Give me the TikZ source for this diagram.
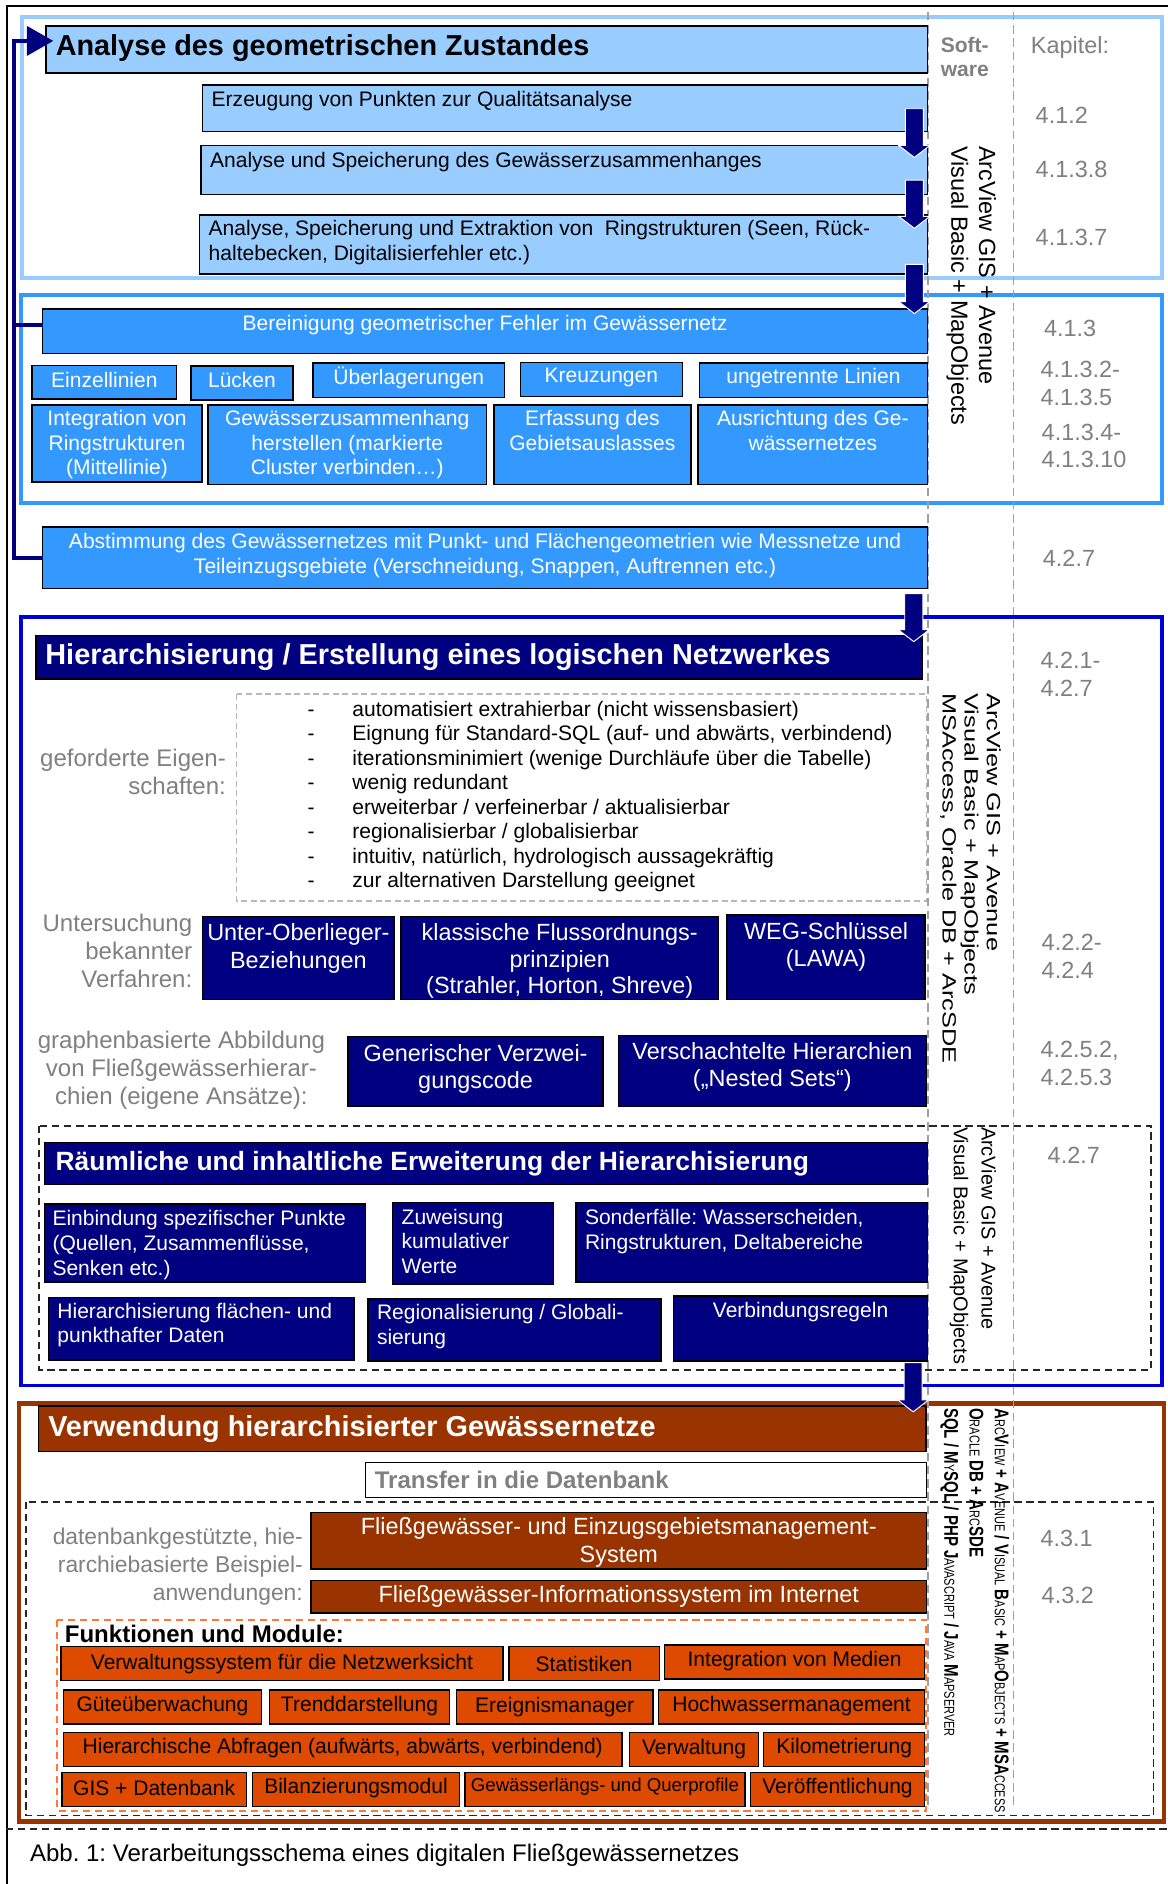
\documentclass[tikz,border=0pt]{standalone}
\usepackage{fontspec}
\usepackage{graphicx}
\setmainfont{Liberation Sans}
\usetikzlibrary{arrows.meta,calc}
\frenchspacing
\definecolor{lblue}{HTML}{99CCFF}
\definecolor{mblue}{HTML}{3399FF}
\definecolor{navy}{HTML}{000080}
\definecolor{sblue}{HTML}{0000DC}
\definecolor{brn}{HTML}{993300}
\definecolor{orng}{HTML}{DD4A00}
\definecolor{orngd}{HTML}{FF7A30}
\definecolor{gtext}{HTML}{808080}
\definecolor{gline}{HTML}{A0A0A0}
\newcommand\fs[2]{\fontsize{#1}{#2}\selectfont}
\newcommand\bx[9]{%
\node[#1,anchor=north west,minimum width={(#5)-(#3)},minimum height={(#6)-(#4)}] (#2) at (#3,#4) {};
\node[#8] (#2t) at (#2.#7) {#9};}
\newcommand\bigarrow[2]{\path[fill=navy,draw=white,line width=0.8pt] let \p1=(#1), \p2=(#2) in
 (\x1-7.5pt,\y1) -- (\x1-7.5pt,\y2+10pt) -- (\x1-13pt,\y2+10pt) -- (\x1,\y2) -- (\x1+13pt,\y2+10pt) -- (\x1+7.5pt,\y2+10pt) -- (\x1+7.5pt,\y1) -- cycle;}
\newcommand\Bg[1]{{\fontsize{16.5}{22}\selectfont\bfseries #1}}
\newcommand\Sm[1]{{\fontsize{12}{22}\selectfont #1}}
\begin{document}
\begin{tikzpicture}[x=1pt,y=-1pt,
  tx/.style={inner sep=0pt,outer sep=0pt},
  box/.style={draw=black,line width=1.2pt,inner sep=0pt,outer sep=0pt},
  b1/.style={box,fill=lblue},
  b2/.style={box,fill=mblue},
  b3/.style={box,fill=navy},
  b4/.style={box,fill=brn},
  b5/.style={box,fill=orng},
  bw/.style={box,fill=white},
  ptl/.style={tx,anchor=north west,xshift=7.5pt,yshift=-5.5pt,align=left},
  ptc/.style={tx,anchor=north,yshift=-5.5pt,align=center},
  pc/.style={tx,anchor=center,align=center},
  pl/.style={tx,anchor=west,xshift=8pt,align=left},
  ftit/.style={font=\fs{24}{28}\bfseries},
  fm/.style={font=\fs{17.5}{20.5}},
  fl/.style={font=\fs{19.5}{23}},
  glab/.style={tx,text=gtext,font=\fs{20}{23.2}},
  kap/.style={tx,text=gtext,font=\fs{19.5}{23},anchor=north west,align=left},
  rot/.style={tx,rotate=-90,anchor=north west,align=left},
  spine/.style={draw=navy,line width=3.5pt},
  gdash/.style={draw=gline,line width=1.3pt,dash pattern=on 7pt off 4pt},
  kdash/.style={draw=black!85,line width=1.5pt,dash pattern=on 6pt off 4pt},
  odash/.style={draw=orngd,line width=1.8pt,dash pattern=on 6pt off 4pt},
  ldash/.style={draw=black!28,line width=1.2pt,dash pattern=on 5pt off 3pt}
]
\useasboundingbox (0,0) rectangle (972,1568);
\fill[white] (0,0) rectangle (972,1568);
% outer lines
\draw[line width=2.4pt] (5.8,1568) -- (5.8,5) -- (972,5);
% section frames
\draw[lblue,line width=3.3pt] (18,14) rectangle (967,231.5);
\draw[mblue,line width=3.3pt] (17.4,245.5) rectangle (967,419);
\draw[sblue,line width=3pt] (17.4,513.5) rectangle (967,1153);
\draw[brn,line width=3.5pt] (15.5,1168) rectangle (969,1516);
% dashed areas
\draw[kdash] (32.5,937) rectangle (958,1140);
\draw[kdash] (21.7,1250) rectangle (960,1511);
\draw[odash] (47.7,1348) rectangle (771,1507);
\draw[ldash] (197,577.6) rectangle (771,750);
\draw[kdash] (5,1522) -- (972,1522);
% column lines
\draw[gdash] (772.5,10) -- (772.5,1506);
\draw[gdash] (843.5,10) -- (843.5,1506);

% ---------- Section 1
\bx{b1,line width=1.4pt}{t1}{38.4}{21.6}{772}{60.5}{west}{pl,ftit,yshift=1.4pt}{Analyse des geometrischen Zustandes}
\bx{b1}{e1}{168.7}{70.7}{772}{109.6}{north west}{ptl,fm}{Erzeugung von Punkten zur Qualitätsanalyse}
\bx{b1}{e2}{167.4}{121}{772}{162}{north west}{ptl,fm}{Analyse und Speicherung des Gewässerzusammenhanges}
\bx{b1}{e3}{166.2}{179}{772}{228}{north west}{ptl,fm,yshift=1pt}{Analyse, Speicherung und Extraktion von\ \ Ringstrukturen (Seen, Rück-\\haltebecken, Digitalisierfehler etc.)}

% ---------- Section 2
\bx{b2}{ber}{35.4}{257}{772}{294}{north}{ptc,fm,text=white}{Bereinigung geometrischer Fehler im Gewässernetz}
\bx{b2}{r1a}{26.7}{304}{147}{332}{center}{pc,fm,text=white,yshift=2pt}{Einzellinien}
\bx{b2}{r1b}{158.8}{304.5}{244}{332.8}{center}{pc,fm,text=white,yshift=2pt}{Lücken}
\bx{b2}{r1c}{260.5}{302}{420}{331}{center}{pc,fm,text=white,yshift=2pt}{Überlagerungen}
\bx{b2}{r1d}{433}{301.5}{568}{330}{center}{pc,fm,text=white,yshift=2pt}{Kreuzungen}
\bx{b2}{r1e}{582}{302}{772}{331}{center}{pc,fm,text=white,yshift=2pt}{ungetrennte Linien}
\bx{b2}{r2a}{26.7}{337}{168}{401}{north}{ptc,fm,text=white,yshift=1pt}{Integration von\\Ringstrukturen\\(Mittellinie)}
\bx{b2}{r2b}{173}{337}{405}{403}{north}{ptc,fm,text=white,yshift=1pt}{Gewässerzusammenhang\\herstellen (markierte\\Cluster verbinden…)}
\bx{b2}{r2c}{411}{337}{575}{403}{north}{ptc,fm,text=white,yshift=1pt}{Erfassung des\\Gebietsauslasses}
\bx{b2}{r2d}{581}{337}{772}{403}{north}{ptc,fm,text=white,yshift=1pt}{Ausrichtung des Ge-\\wässernetzes}
\bx{b2}{abst}{35.4}{438.6}{772}{490}{north}{ptc,fm,text=white}{Abstimmung des Gewässernetzes mit Punkt- und Flächengeometrien wie Messnetze und\\Teileinzugsgebiete (Verschneidung, Snappen, Auftrennen etc.)}

% ---------- Section 3
\bx{b3}{hier}{29.8}{529}{767.7}{565}{west}{pl,ftit,text=white}{Hierarchisierung / Erstellung eines logischen Netzwerkes}
\node[tx,anchor=base west,font=\fs{17.5}{20.4}] (bul) at (256,596) {\begin{tabular}[t]{@{}l@{\hspace{31.5pt}}l@{}}
- & automatisiert extrahierbar (nicht wissensbasiert)\\
- & Eignung für Standard-SQL (auf- und abwärts, verbindend)\\
- & iterationsminimiert (wenige Durchläufe über die Tabelle)\\
- & wenig redundant\\
- & erweiterbar / verfeinerbar / aktualisierbar\\
- & regionalisierbar / globalisierbar\\
- & intuitiv, natürlich, hydrologisch aussagekräftig\\
- & zur alternativen Darstellung geeignet
\end{tabular}};
\node[glab,anchor=north east,align=right] (lab1) at (188,623.6) {geforderte Eigen-\\schaften:};
\node[glab,anchor=north east,align=right] (lab2) at (160,760.6) {Untersuchung\\bekannter\\Verfahren:};
\node[glab,anchor=north,align=center] (lab3) at (151,858.1) {graphenbasierte Abbildung\\von Fließgewässerhierar-\\chien (eigene Ansätze):};
\bx{b3}{uob}{168.7}{763}{328}{832}{north}{ptc,fl,text=white,yshift=-0.5pt}{Unter-Oberlieger-\\Beziehungen}
\bx{b3}{kfp}{333.6}{763}{598}{832}{north}{ptc,fl,text=white,yshift=-0.5pt,font=\fs{19.5}{22}}{klassische Flussordnungs-\\prinzipien\\(Strahler, Horton, Shreve)}
\bx{b3}{weg}{605}{761.6}{770}{832}{north}{ptc,fl,text=white,yshift=-0.5pt}{WEG-Schlüssel\\(LAWA)}
\bx{b3}{gvc}{289.6}{862.7}{502}{920.5}{north}{ptc,fl,text=white,yshift=-1pt}{Generischer Verzwei-\\gungscode}
\bx{b3}{nst}{514.7}{862}{771}{921}{north}{ptc,fl,text=white}{Verschachtelte Hierarchien\\(„Nested Sets“)}

% ---------- Section 3b
\bx{b3}{rae}{37.2}{951}{772}{986}{west}{pl,text=white,font=\fs{22}{26}\bfseries,xshift=1pt}{Räumliche und inhaltliche Erweiterung der Hierarchisierung}
\bx{b3}{einb}{37.2}{1002}{304}{1067}{north west}{ptl,fm,text=white,xshift=-1pt}{Einbindung spezifischer Punkte\\(Quellen, Zusammenflüsse,\\Senken etc.)}
\bx{b3}{zuw}{326.8}{1000.6}{460.7}{1069}{north west}{ptl,fm,text=white}{Zuweisung\\kumulativer\\Werte}
\bx{b3}{sond}{479.4}{1001}{772}{1067}{north west}{ptl,fm,text=white}{Sonderfälle: Wasserscheiden,\\Ringstrukturen, Deltabereiche}
\bx{b3}{hfp}{40.3}{1080}{294.6}{1132}{north west}{ptl,fm,text=white,yshift=1pt}{Hierarchisierung flächen- und\\punkthafter Daten}
\bx{b3}{reg}{306.3}{1081}{550}{1132.7}{north west}{ptl,fm,text=white,yshift=1pt}{Regionalisierung / Globali-\\sierung}
\bx{b3}{vbr}{560.6}{1078.6}{772}{1132.7}{north}{ptc,fm,text=white}{Verbindungsregeln}

% ---------- Section 4
\bx{b4}{verw}{32.2}{1170}{770.8}{1208}{west}{pl,ftit,text=white}{Verwendung hierarchisierter Gewässernetze}
\bx{bw}{trans}{304}{1217}{771}{1246.4}{west}{pl,text=gtext,font=\fs{20}{24}\bfseries}{Transfer in die Datenbank}
\node[glab,anchor=north east,align=right,font=\fs{19}{23}] (lab4) at (252,1272) {datenbankgestützte, hie-\\rarchiebasierte Beispiel-\\anwendungen:};
\bx{b4}{fgm}{259}{1259}{771}{1305.8}{center}{pc,fl,text=white,yshift=-1.5pt}{Fließgewässer- und Einzugsgebietsmanagement-\\System}
\bx{b4}{fgi}{259}{1315.5}{771}{1342.5}{center}{pc,fl,text=white}{Fließgewässer-Informationssystem im Internet}
\node[tx,anchor=west,font=\fs{20}{24}\bfseries] (funk) at (54,1360) {Funktionen und Module:};
\bx{b5}{m11}{50.8}{1370.4}{418.6}{1398.7}{center}{pc,fm}{Verwaltungssystem für die Netzwerksicht}
\bx{b5}{m12}{423.6}{1370.4}{548.8}{1398.7}{center}{pc,fm}{Statistiken}
\bx{b5}{m13}{553}{1369}{769.6}{1397.5}{center}{pc,fm,yshift=1pt}{Integration von Medien}
\bx{b5}{m21}{52.7}{1406.5}{217.7}{1435}{center}{pc,fm,yshift=1pt}{Güteüberwachung}
\bx{b5}{m22}{224.5}{1406.5}{373.9}{1435}{center}{pc,fm,yshift=1pt}{Trenddarstellung}
\bx{b5}{m23}{380}{1406.5}{543.3}{1435}{center}{pc,fm}{Ereignismanager}
\bx{b5}{m24}{548}{1406.5}{769.6}{1435}{center}{pc,fm,yshift=1pt}{Hochwassermanagement}
\bx{b5}{m31}{52.7}{1442}{517.8}{1470}{center}{pc,fm,yshift=1pt}{Hierarchische Abfragen (aufwärts, abwärts, verbindend)}
\bx{b5}{m32}{524}{1442}{631.3}{1470}{center}{pc,fm}{Verwaltung}
\bx{b5}{m33}{635.6}{1442}{769.6}{1470}{center}{pc,fm,yshift=1pt}{Kilometrierung}
\bx{b5}{m41}{51.5}{1475}{205}{1503.5}{center}{pc,fm,yshift=1pt}{GIS + Datenbank}
\bx{b5}{m42}{210}{1475}{382.6}{1503.5}{center}{pc,fm,yshift=1pt}{Bilanzierungsmodul}
\bx{b5}{m43}{387}{1475}{620}{1503.5}{center}{pc,font=\fs{15.5}{18},yshift=2pt}{Gewässerlängs- und Querprofile}
\bx{b5}{m44}{624.4}{1475}{769.6}{1503.5}{center}{pc,fm,yshift=1pt}{Veröffentlichung}

% ---------- Software / Kapitel columns
\node[tx,anchor=north west,align=left,text=gtext,font=\fs{17.5}{20}\bfseries] (soft) at (783,30.7) {Soft-\\ware};
\node[kap] (kap) at (858,30) {Kapitel:};
\node[kap] (k412) at (862,88.8) {4.1.2};
\node[kap] (k4138) at (862,133.8) {4.1.3.8};
\node[kap] (k4137) at (862,190.8) {4.1.3.7};
\node[kap] (k413) at (869,266.8) {4.1.3};
\node[kap] (k4132) at (866,300.8) {4.1.3.2-\\4.1.3.5};
\node[kap] (k4134) at (867,352.8) {4.1.3.4-\\4.1.3.10};
\node[kap] (k427a) at (868,457.8) {4.2.7};
\node[kap] (k421) at (866,542.8) {4.2.1-\\4.2.7};
\node[kap] (k422) at (867,777.8) {4.2.2-\\4.2.4};
\node[kap] (k4252) at (866,866.8) {4.2.5.2,\\4.2.5.3};
\node[kap] (k427b) at (872,954.8) {4.2.7};
\node[kap] (k431) at (866,1273.8) {4.3.1};
\node[kap] (k432) at (867,1320.8) {4.3.2};

\node[rot,font=\fs{19.5}{23}] (sw1) at (829,121.7) {ArcView GIS + Avenue\\Visual Basic + MapObjects};
\node[rot,font=\fs{16}{18.5}] (sw3) at (833,577) {\scalebox{1.32}[1]{ArcView GIS + Avenue}\\\scalebox{1.32}[1]{Visual Basic + MapObjects}\\\scalebox{1.32}[1]{MSAccess, Oracle DB + ArcSDE}};
\node[rot,font=\fs{16.6}{23}] (sw3b) at (829,938) {ArcView GIS + Avenue\\Visual Basic + MapObjects};
\node[rot,font=\fs{16.5}{21}] (sw4) at (840,1172) {%
\scalebox{0.76}[1]{\Bg{A}\Sm{RC}\Bg{V}\Sm{IEW} \Bg{+ A}\Sm{VENUE} \Bg{/ V}\Sm{ISUAL} \Bg{B}\Sm{ASIC} \Bg{+ M}\Sm{AP}\Bg{O}\Sm{BJECTS} \Bg{+ MSA}\Sm{CCESS}}\\
\scalebox{0.76}[1]{\Bg{O}\Sm{RACLE} \Bg{DB + A}\Sm{RC}\Bg{SDE}}\\
\scalebox{0.76}[1]{\Bg{SQL / M}\Sm{Y}\Bg{SQL / PHP J}\Sm{AVASCRIPT} \Bg{/ J}\Sm{AVA} \Bg{M}\Sm{APSERVER}}};

% ---------- connectors
\coordinate (t1in) at ([xshift=6pt,yshift=7pt]t1.west);
\coordinate (spx) at (11.6,0);
\coordinate (berin) at ([yshift=5pt]ber.west);
\draw[spine,-{Triangle[length=22pt,width=24pt]}] (abst.west) -| (spx |- t1in) -- (t1in);
\draw[spine] (berin) -- (spx |- berin);
\coordinate (a1s) at (761,90.5);  \coordinate (a1e) at (761,131);
\coordinate (a2s) at (761,150);   \coordinate (a2e) at (761,190);
\coordinate (a3s) at (761,220);   \coordinate (a3e) at (761,261);
\coordinate (a4s) at (760.5,494); \coordinate (a4e) at (760.5,534);
\coordinate (a5s) at (760,1134);  \coordinate (a5e) at (760,1175);
\bigarrow{a1s}{a1e}
\bigarrow{a2s}{a2e}
\bigarrow{a3s}{a3e}
\bigarrow{a4s}{a4e}
\bigarrow{a5s}{a5e}

\node[tx,anchor=west,font=\fs{20}{24}] (cap) at (25,1544) {Abb. 1: Verarbeitungsschema eines digitalen Fließgewässernetzes};
\end{tikzpicture}
\end{document}
